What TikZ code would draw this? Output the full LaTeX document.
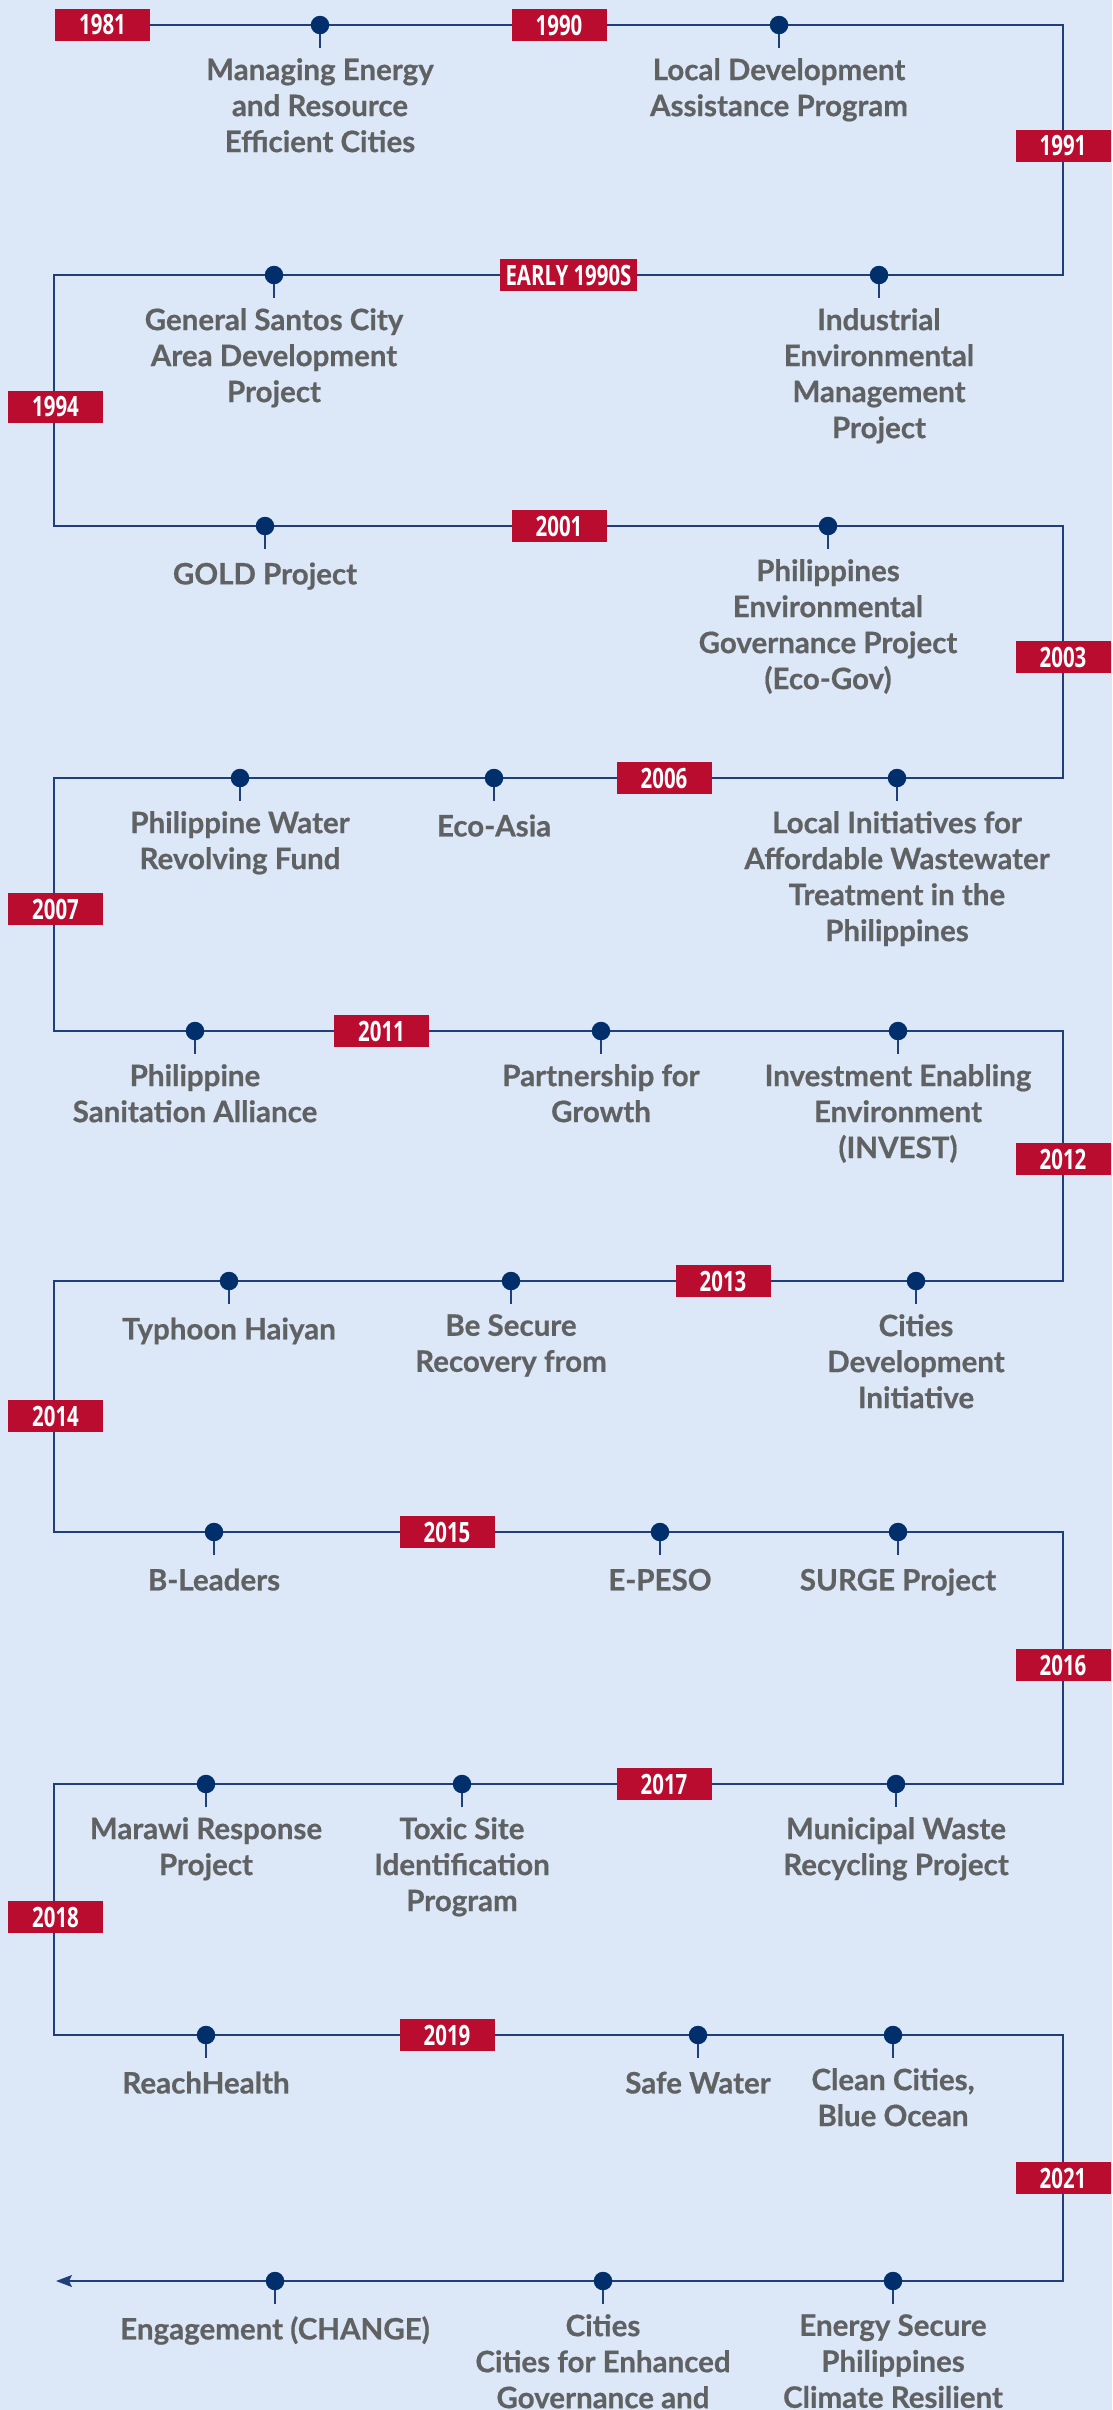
\documentclass[tikz,border=0pt]{standalone}
\usepackage{fontspec}
\setmainfont{Lato}[BoldFeatures={FakeBold=0.6}]
\newfontfamily\yearfont[FakeStretch=0.73]{Open Sans}
\usetikzlibrary{arrows.meta}
\definecolor{bgblue}{RGB}{220,232,247}
\definecolor{yearred}{RGB}{186,12,47}
\definecolor{dotblue}{RGB}{0,47,108}
\definecolor{linkblue}{RGB}{31,62,124}
\definecolor{textgray}{RGB}{96,97,99}

\begin{document}
\begin{tikzpicture}[x=1pt,y=-1pt,
  year/.style={fill=yearred,text=white,font=\yearfont\bfseries\fontsize{28}{28}\selectfont,minimum width=95pt,minimum height=32pt,inner xsep=6pt,inner ysep=0pt},
  evt/.style={circle,fill=dotblue,inner sep=0pt,minimum size=18.5pt},
  stem/.style={draw=linkblue,line width=1.2pt},
  lbl/.style={anchor=north,align=center,inner sep=0pt,text=textgray,font=\bfseries\fontsize{29.5}{36}\selectfont,execute at begin node=\strut},
  track/.style={draw=linkblue,line width=1.3pt,line join=miter}]

\useasboundingbox (0,0) rectangle (1112,2410);
\fill[bgblue] (0,0) rectangle (1112,2410);

%%% the zig-zag line
\coordinate (p0) at (55,25);
\coordinate (p1) at (1063,25);
\coordinate (p2) at (1063,275);
\coordinate (p3) at (54,275);
\coordinate (p4) at (54,526);
\coordinate (p5) at (1063,526);
\coordinate (p6) at (1063,778);
\coordinate (p7) at (54,778);
\coordinate (p8) at (54,1031);
\coordinate (p9) at (1063,1031);
\coordinate (p10) at (1063,1281);
\coordinate (p11) at (54,1281);
\coordinate (p12) at (54,1532);
\coordinate (p13) at (1063,1532);
\coordinate (p14) at (1063,1784);
\coordinate (p15) at (54,1784);
\coordinate (p16) at (54,2035);
\coordinate (p17) at (1063,2035);
\coordinate (p18) at (1063,2281);
\coordinate (p19) at (56,2281);

\draw[track,-{Stealth[length=16pt,width=12pt,inset=3pt]}] (p0) -- (p1) -- (p2) -- (p3) -- (p4) -- (p5) -- (p6) -- (p7) -- (p8) -- (p9)
  -- (p10) -- (p11) -- (p12) -- (p13) -- (p14) -- (p15) -- (p16) -- (p17) -- (p18) -- (p19);

%%% row 1
\node[evt] (aa1) at (320,25) {};
\draw[stem] (aa1.south) -- ++(0,14);
\node[lbl] (aa1t) at (320,58) {Managing Energy\\and Resource\\Efficient Cities};
\node[evt] (aa2) at (779,25) {};
\draw[stem] (aa2.south) -- ++(0,14);
\node[lbl] (aa2t) at (779,58) {Local Development\\Assistance Program};

%%% row 2
\node[evt] (bb1) at (274,275) {};
\draw[stem] (bb1.south) -- ++(0,14);
\node[lbl] (bb1t) at (274,308) {General Santos City\\Area Development\\Project};
\node[evt] (bb2) at (879,275) {};
\draw[stem] (bb2.south) -- ++(0,14);
\node[lbl] (bb2t) at (879,308) {Industrial\\Environmental\\Management\\Project};

%%% row 3
\node[evt] (cc1) at (265,526) {};
\draw[stem] (cc1.south) -- ++(0,14);
\node[lbl] (cc1t) at (265,559) {GOLD Project};
\node[evt] (cc2) at (828,526) {};
\draw[stem] (cc2.south) -- ++(0,14);
\node[lbl] (cc2t) at (828,559) {Philippines\\Environmental\\Governance Project\\(Eco-Gov)};

%%% row 4
\node[evt] (dd1) at (240,778) {};
\draw[stem] (dd1.south) -- ++(0,14);
\node[lbl] (dd1t) at (240,811) {Philippine Water\\Revolving Fund};
\node[evt] (dd2) at (494,778) {};
\draw[stem] (dd2.south) -- ++(0,14);
\node[lbl] (dd2t) at (494,811) {Eco-Asia};
\node[evt] (dd3) at (897,778) {};
\draw[stem] (dd3.south) -- ++(0,14);
\node[lbl] (dd3t) at (897,811) {Local Initiatives for\\Affordable Wastewater\\Treatment in the\\Philippines};

%%% row 5
\node[evt] (ee1) at (195,1031) {};
\draw[stem] (ee1.south) -- ++(0,14);
\node[lbl] (ee1t) at (195,1064) {Philippine\\Sanitation Alliance};
\node[evt] (ee2) at (601,1031) {};
\draw[stem] (ee2.south) -- ++(0,14);
\node[lbl] (ee2t) at (601,1064) {Partnership for\\Growth};
\node[evt] (ee3) at (898,1031) {};
\draw[stem] (ee3.south) -- ++(0,14);
\node[lbl] (ee3t) at (898,1064) {Investment Enabling\\Environment\\(INVEST)};

%%% row 6
\node[evt] (ff1) at (229,1281) {};
\draw[stem] (ff1.south) -- ++(0,14);
\node[lbl] (ff1t) at (229,1314) {Typhoon Haiyan};
\node[evt] (ff2) at (511,1281) {};
\draw[stem] (ff2.south) -- ++(0,14);
\node[lbl] (ff2t) at (511,1314) {Be Secure\\Recovery from};
\node[evt] (ff3) at (916,1281) {};
\draw[stem] (ff3.south) -- ++(0,14);
\node[lbl] (ff3t) at (916,1314) {Cities\\Development\\Initiative};

%%% row 7
\node[evt] (gg1) at (214,1532) {};
\draw[stem] (gg1.south) -- ++(0,14);
\node[lbl] (gg1t) at (214,1565) {B-Leaders};
\node[evt] (gg2) at (660,1532) {};
\draw[stem] (gg2.south) -- ++(0,14);
\node[lbl] (gg2t) at (660,1565) {E-PESO};
\node[evt] (gg3) at (898,1532) {};
\draw[stem] (gg3.south) -- ++(0,14);
\node[lbl] (gg3t) at (898,1565) {SURGE Project};

%%% row 8
\node[evt] (hh1) at (206,1784) {};
\draw[stem] (hh1.south) -- ++(0,14);
\node[lbl] (hh1t) at (206,1817) {Marawi Response\\Project};
\node[evt] (hh2) at (462,1784) {};
\draw[stem] (hh2.south) -- ++(0,14);
\node[lbl] (hh2t) at (462,1817) {Toxic Site\\Identification\\Program};
\node[evt] (hh3) at (896,1784) {};
\draw[stem] (hh3.south) -- ++(0,14);
\node[lbl] (hh3t) at (896,1817) {Municipal Waste\\Recycling Project};

%%% row 9
\node[evt] (ii1) at (206,2035) {};
\draw[stem] (ii1.south) -- ++(0,14);
\node[lbl] (ii1t) at (206,2068) {ReachHealth};
\node[evt] (ii2) at (698,2035) {};
\draw[stem] (ii2.south) -- ++(0,14);
\node[lbl] (ii2t) at (698,2068) {Safe Water};
\node[evt] (ii3) at (893,2035) {};
\draw[stem] (ii3.south) -- ++(0,14);
\node[lbl] (ii3t) at (893,2068) {Clean Cities,\\Blue Ocean};

%%% bottom
\node[evt] (jj1) at (275,2281) {};
\draw[stem] (jj1.south) -- ++(0,14);
\node[lbl] (jj1t) at (275,2314) {Engagement (CHANGE)};
\node[evt] (jj2) at (603,2281) {};
\draw[stem] (jj2.south) -- ++(0,14);
\node[lbl] (jj2t) at (603,2314) {Cities\\Cities for Enhanced\\Governance and};
\node[evt] (jj3) at (893,2281) {};
\draw[stem] (jj3.south) -- ++(0,14);
\node[lbl] (jj3t) at (893,2314) {Energy Secure\\Philippines\\Climate Resilient};

%%% years
\node[year] (y1981) at (102.5,25) {1981};
\node[year] (y1990) at (559,25) {1990};
\node[year] (y1991) at (1063,146) {1991};
\node[year] (y90s) at (568.5,275) {EARLY 1990S};
\node[year] (y1994) at (55.5,407) {1994};
\node[year] (y2001) at (559,526) {2001};
\node[year] (y2003) at (1063,657) {2003};
\node[year] (y2006) at (664,778) {2006};
\node[year] (y2007) at (55.5,909) {2007};
\node[year] (y2011) at (381.5,1031) {2011};
\node[year] (y2012) at (1063,1159) {2012};
\node[year] (y2013) at (723,1281) {2013};
\node[year] (y2014) at (55.5,1416) {2014};
\node[year] (y2015) at (447,1532) {2015};
\node[year] (y2016) at (1063,1665) {2016};
\node[year] (y2017) at (664,1784) {2017};
\node[year] (y2018) at (55.5,1917) {2018};
\node[year] (y2019) at (447,2035) {2019};
\node[year] (y2021) at (1063,2178) {2021};

\end{tikzpicture}
\end{document}
